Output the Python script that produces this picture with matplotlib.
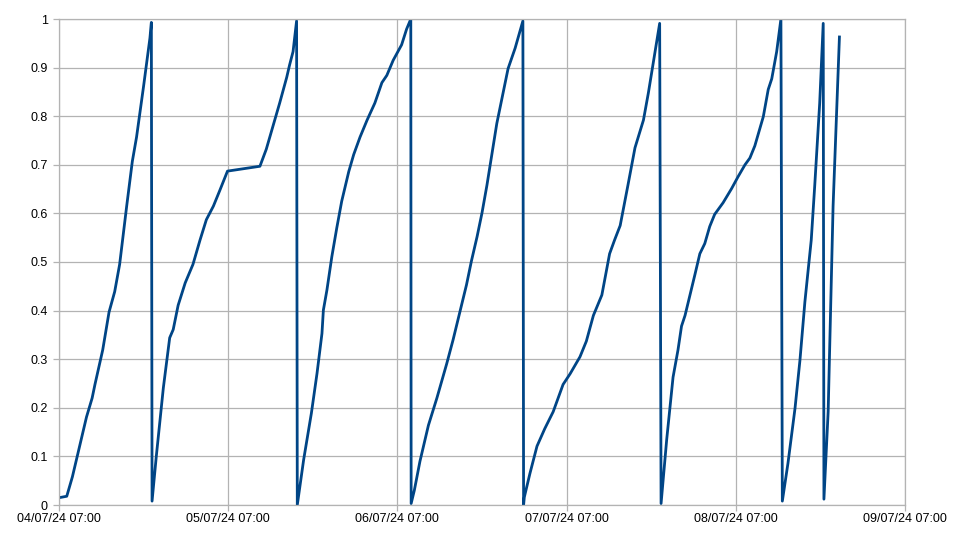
import matplotlib
matplotlib.use("Agg")
import matplotlib.pyplot as plt
import matplotlib.dates as mdates
from matplotlib.ticker import FormatStrFormatter
import pandas as pd

# hours since 04/07/24 07:00, and the level read at that time
start = pd.Timestamp("2024-07-04 07:00")
hours = [
    0.0, 1.1, 1.9, 2.7, 3.9, 4.7, 5.1, 6.2, 7.1, 7.9, 8.6, 9.6, 10.4, 11.0, 12.0, 12.9, 13.1,
    13.2, 13.8, 14.8, 15.7, 16.2, 16.9, 17.9, 19.0, 20.0, 20.9, 21.9, 22.8, 23.9, 28.5, 29.4,
    30.6, 31.3, 32.3, 32.7, 33.2, 33.7,
    33.8, 34.7, 35.8, 36.6, 37.3, 37.5, 38.0, 38.7, 39.4, 40.1, 41.1, 41.8, 42.7, 43.7, 44.8,
    45.8, 46.5, 47.4, 48.6, 49.3, 49.9,
    49.95, 50.4, 51.2, 52.4, 53.6, 55.0, 55.9, 57.1, 57.8, 58.5, 59.3, 60.0, 60.7, 61.4, 62.1,
    62.8, 63.7, 64.7, 65.8,
    65.9, 66.0, 66.8, 67.8, 68.9, 70.1, 71.5, 72.5, 73.9, 74.8, 75.8, 77.0, 78.1, 78.8, 79.6,
    80.7, 81.7, 82.9, 83.6, 84.0, 84.7, 85.2,
    85.4, 86.2, 87.1, 87.8, 88.3, 88.8, 89.5, 90.2, 90.9, 91.6, 92.3, 93.0, 94.2, 95.4, 96.3,
    97.3, 98.0, 98.7, 99.9, 100.6, 101.1, 101.8, 102.4,
    102.6, 103.4, 104.4, 105.1, 105.8, 106.7, 107.2, 107.9, 108.4,
    108.5, 109.1, 109.8, 110.7,
]
level = [
    0.015, 0.018, 0.058, 0.107, 0.181, 0.220, 0.248, 0.319, 0.397, 0.439, 0.495, 0.615, 0.707,
    0.757, 0.862, 0.961, 0.993,
    0.008, 0.100, 0.241, 0.344, 0.361, 0.411, 0.457, 0.495, 0.545, 0.587, 0.615, 0.647, 0.687,
    0.697, 0.732, 0.792, 0.827, 0.880, 0.905, 0.933, 0.996,
    0.0, 0.093, 0.189, 0.271, 0.353, 0.401, 0.442, 0.511, 0.570, 0.625, 0.686, 0.721, 0.757,
    0.792, 0.827, 0.869, 0.884, 0.915, 0.947, 0.979, 1.0,
    0.003, 0.030, 0.090, 0.164, 0.220, 0.291, 0.340, 0.411, 0.453, 0.502, 0.552, 0.601, 0.658,
    0.721, 0.785, 0.834, 0.898, 0.940, 0.996,
    0.0, 0.016, 0.065, 0.121, 0.157, 0.192, 0.248, 0.270, 0.305, 0.337, 0.390, 0.432, 0.517,
    0.545, 0.575, 0.658, 0.735, 0.792, 0.848, 0.884, 0.947, 0.991,
    0.003, 0.135, 0.263, 0.319, 0.368, 0.390, 0.432, 0.474, 0.517, 0.538, 0.573, 0.598, 0.622,
    0.651, 0.675, 0.700, 0.714, 0.739, 0.799, 0.855, 0.877, 0.933, 1.0,
    0.008, 0.086, 0.199, 0.298, 0.418, 0.545, 0.658, 0.827, 0.991,
    0.012, 0.192, 0.615, 0.963,
]
n_days = 5

times = start + pd.to_timedelta(hours, unit="h")
grey = "#b3b3b3"

plt.rcParams["font.family"] = ["Liberation Sans", "DejaVu Sans"]
fig = plt.figure(figsize=(9.61, 5.38), dpi=100)
ax = fig.add_axes([59 / 961, 33 / 538, 846 / 961, 486 / 538])

ax.plot(times, level, color="#004586", lw=2.0, solid_joinstyle="round")

ax.set_xlim(start, start + pd.Timedelta(days=n_days))
ax.set_ylim(0, 1)
ax.set_xticks([start + pd.Timedelta(days=i) for i in range(n_days + 1)])
ax.xaxis.set_major_formatter(mdates.DateFormatter("%d/%m/%y %H:%M"))
ax.set_yticks([i / 10 for i in range(11)])
ax.yaxis.set_major_formatter(FormatStrFormatter("%g"))

ax.grid(True, color=grey, lw=0.9)
ax.set_axisbelow(True)
for s in ax.spines.values():
    s.set_color(grey)
    s.set_linewidth(0.9)
ax.tick_params(axis="both", colors=grey, labelcolor="#000000", labelsize=9,
               length=4, width=0.9, direction="out")
ax.tick_params(axis="y", pad=4)
ax.tick_params(axis="x", pad=2)

fig.savefig("out.png", dpi=100)
